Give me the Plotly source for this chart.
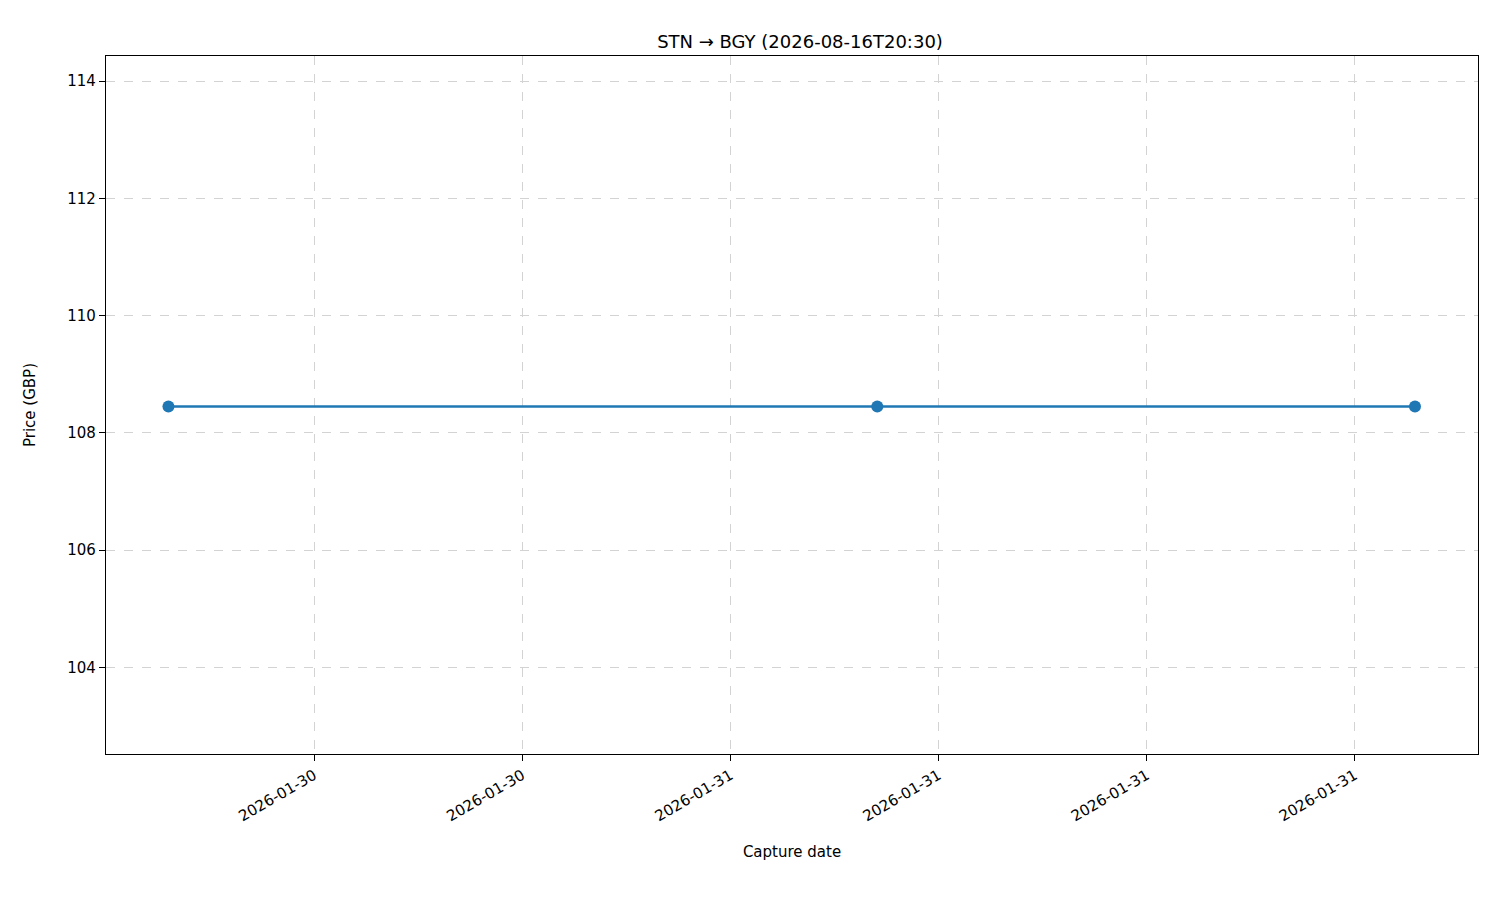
import plotly.graph_objects as go

capture_times = ["2026-01-30 07:48", "2026-01-31 04:14", "2026-01-31 19:44"]
prices = [108.45, 108.45, 108.45]
tick_times = ["2026-01-30 12:00", "2026-01-30 18:00", "2026-01-31 00:00",
              "2026-01-31 06:00", "2026-01-31 12:00", "2026-01-31 18:00"]
tick_labels = [t[:10] for t in tick_times]

fig = go.Figure(go.Scatter(
    x=capture_times, y=prices, mode="lines+markers",
    line=dict(color="#1f77b4", width=2.5),
    marker=dict(color="#1f77b4", size=12),
))

axis_common = dict(
    showline=True, mirror=True, linecolor="black", linewidth=1.2,
    ticks="outside", ticklen=6, tickcolor="black",
    showgrid=True, gridcolor="#d3d3d3", griddash="dash", gridwidth=1,
    zeroline=False, tickfont=dict(size=15, color="black"),
)

fig.update_layout(
    width=1500, height=900,
    paper_bgcolor="white", plot_bgcolor="white",
    font=dict(family="DejaVu Sans", color="black"),
    title=dict(text="STN → BGY (2026-08-16T20:30)", x=0.528, xanchor="center",
               y=0.97, font=dict(size=18)),
    margin=dict(l=98, r=30, t=48, b=154),
    showlegend=False,
    xaxis=dict(axis_common, type="date",
               range=["2026-01-30 06:00", "2026-01-31 21:33"],
               tickmode="array", tickvals=tick_times, ticktext=tick_labels,
               tickangle=-30,
               title=dict(text="Capture date", font=dict(size=15), standoff=22)),
    yaxis=dict(axis_common, range=[102.52, 114.43],
               tickvals=[104, 106, 108, 110, 112, 114],
               title=dict(text="Price (GBP)", font=dict(size=15), standoff=28)),
)

fig.write_html("out.html")
